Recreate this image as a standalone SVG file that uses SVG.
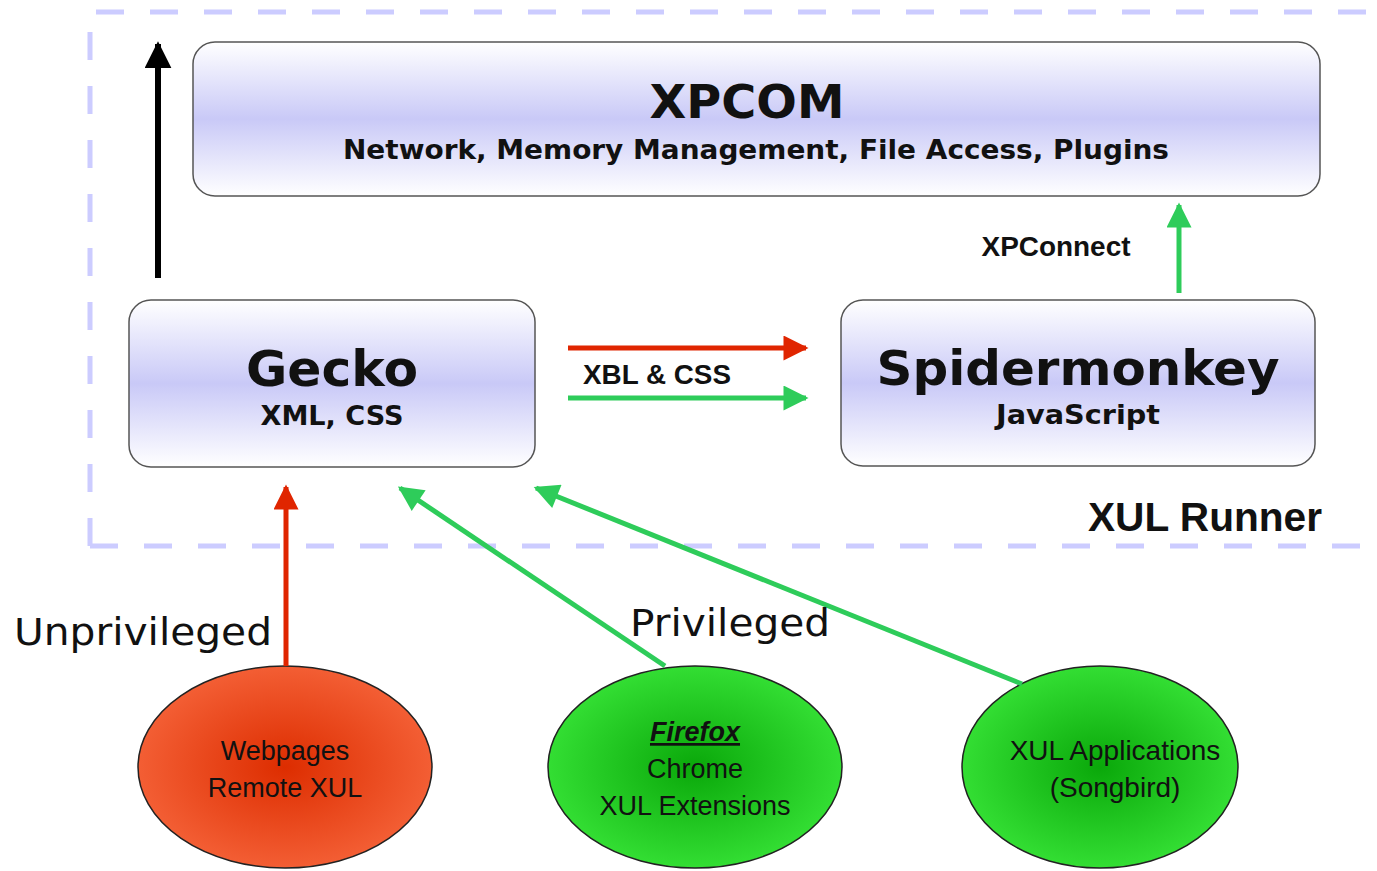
<svg xmlns="http://www.w3.org/2000/svg" width="1377" height="871" viewBox="0 0 1377 871">
<style>
.box{stroke:#555;stroke-width:1.5;fill:url(#boxg)}
.t{font-family:"DejaVu Sans",sans-serif;fill:#111;text-anchor:middle}
.a{font-family:"Liberation Sans",Arial,sans-serif;fill:#111;text-anchor:middle}
.ell{stroke:#222;stroke-width:1.5}
</style>
<defs>
<linearGradient id="boxg" x1="0" y1="0" x2="0" y2="1">
<stop offset="0" stop-color="#ffffff"/>
<stop offset="0.5" stop-color="#c9c9f7"/>
<stop offset="1" stop-color="#ffffff"/>
</linearGradient>
<radialGradient id="redg" cx="0.5" cy="0.5" r="0.5">
<stop offset="0" stop-color="#dd2d00"/>
<stop offset="1" stop-color="#f35e34"/>
</radialGradient>
<radialGradient id="greeng" cx="0.5" cy="0.5" r="0.5">
<stop offset="0" stop-color="#0aa80a"/>
<stop offset="1" stop-color="#33de33"/>
</radialGradient>
<marker id="mblack" viewBox="0 0 10 10" refX="9" refY="5" markerWidth="4.5" markerHeight="4.5" orient="auto" markerUnits="strokeWidth"><path d="M0,0 L10,5 L0,10 z" fill="#000"/></marker>
<marker id="mred" viewBox="0 0 10 10" refX="9" refY="5" markerWidth="8" markerHeight="5" orient="auto" markerUnits="strokeWidth"><path d="M0,0 L10,5 L0,10 z" fill="#e02500"/></marker>
<marker id="mgreen" viewBox="0 0 10 10" refX="9" refY="5" markerWidth="8" markerHeight="5" orient="auto" markerUnits="strokeWidth"><path d="M0,0 L10,5 L0,10 z" fill="#2ecc5a"/></marker>
</defs>
<rect width="1377" height="871" fill="#fff"/>
<g id="xulrunner">
<path d="M90,546 V12 H1380 M90,546 H1380" fill="none" stroke="#ccccff" stroke-width="5" stroke-dasharray="28,26"/>
<text class="a" x="1205" y="531" font-size="41" font-weight="bold" textLength="234" lengthAdjust="spacingAndGlyphs">XUL Runner</text>
</g>
<g id="xpcom">
<rect class="box" x="193" y="42" width="1127" height="154" rx="22"/>
<text class="t" x="747" y="118" font-size="46" font-weight="bold" textLength="195" lengthAdjust="spacingAndGlyphs">XPCOM</text>
<text class="t" x="756" y="159" font-size="26" font-weight="bold" textLength="826" lengthAdjust="spacingAndGlyphs">Network, Memory Management, File Access, Plugins</text>
</g>
<g id="gecko">
<rect class="box" x="129" y="300" width="406" height="167" rx="22"/>
<text class="t" x="332" y="386" font-size="50" font-weight="bold" textLength="172" lengthAdjust="spacingAndGlyphs">Gecko</text>
<text class="t" x="332" y="425" font-size="27" font-weight="bold" textLength="143" lengthAdjust="spacingAndGlyphs">XML, CSS</text>
</g>
<g id="spidermonkey">
<rect class="box" x="841" y="300" width="474" height="166" rx="22"/>
<text class="t" x="1078" y="385" font-size="48" font-weight="bold" textLength="403" lengthAdjust="spacingAndGlyphs">Spidermonkey</text>
<text class="t" x="1078" y="424" font-size="27" font-weight="bold" textLength="164" lengthAdjust="spacingAndGlyphs">JavaScript</text>
</g>
<g id="webpages">
<ellipse class="ell" cx="285" cy="767" rx="147" ry="101" fill="url(#redg)"/>
<text class="a" x="285" y="760" font-size="27">Webpages</text>
<text class="a" x="285" y="797" font-size="27">Remote XUL</text>
</g>
<g id="firefox">
<ellipse class="ell" cx="695" cy="767" rx="147" ry="101" fill="url(#greeng)"/>
<text class="a" x="695" y="741" font-size="27" font-weight="bold" font-style="italic" text-decoration="underline">Firefox</text>
<text class="a" x="695" y="778" font-size="27">Chrome</text>
<text class="a" x="695" y="815" font-size="27">XUL Extensions</text>
</g>
<g id="xulapps">
<ellipse class="ell" cx="1100" cy="767" rx="138" ry="101" fill="url(#greeng)"/>
<text class="a" x="1115" y="760" font-size="28">XUL Applications</text>
<text class="a" x="1115" y="797" font-size="28">(Songbird)</text>
</g>
<g id="connectors" fill="none">
<line x1="158" y1="278" x2="158" y2="44" stroke="#000" stroke-width="6" marker-end="url(#mblack)"/>
<line x1="568" y1="348" x2="806" y2="348" stroke="#e02500" stroke-width="5" marker-end="url(#mred)"/>
<line x1="568" y1="398" x2="806" y2="398" stroke="#2ecc5a" stroke-width="5" marker-end="url(#mgreen)"/>
<line x1="1179" y1="293" x2="1179" y2="205" stroke="#2ecc5a" stroke-width="5" marker-end="url(#mgreen)"/>
<line x1="286" y1="666" x2="286" y2="487" stroke="#e02500" stroke-width="5" marker-end="url(#mred)"/>
<line x1="665" y1="666" x2="400" y2="488" stroke="#2ecc5a" stroke-width="5" marker-end="url(#mgreen)"/>
<line x1="1022" y1="684" x2="536" y2="488" stroke="#2ecc5a" stroke-width="5" marker-end="url(#mgreen)"/>
</g>
<g id="labels">
<text class="a" x="657" y="384" font-size="28" font-weight="bold" textLength="148" lengthAdjust="spacingAndGlyphs">XBL &amp; CSS</text>
<text class="a" x="1056" y="256" font-size="27" font-weight="bold" textLength="149" lengthAdjust="spacingAndGlyphs">XPConnect</text>
<text class="t" x="143" y="645" font-size="37" textLength="258" lengthAdjust="spacingAndGlyphs">Unprivileged</text>
<text class="t" x="730" y="636" font-size="37" textLength="200" lengthAdjust="spacingAndGlyphs">Privileged</text>
</g>
</svg>
